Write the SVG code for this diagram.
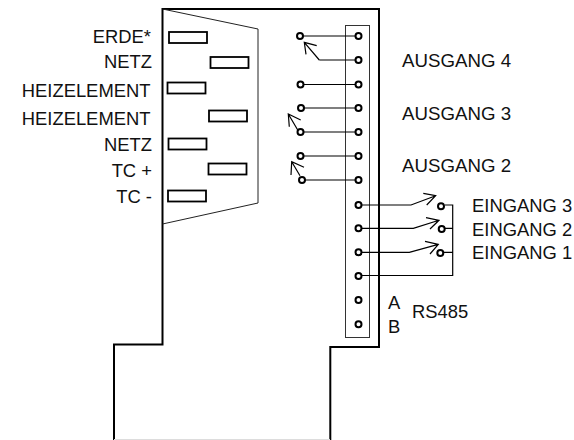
<svg xmlns="http://www.w3.org/2000/svg" width="574" height="440" viewBox="0 0 574 440">
<style>
text{font-family:"Liberation Sans",Arial,sans-serif;font-size:18.400px;fill:#111}
.e{text-anchor:end}
.a{font-size:18.700px}
.t{fill:#fff;stroke:#000;stroke-width:1.8}
.c{fill:#fff;stroke:#000;stroke-width:2}
.w{fill:none;stroke:#000;stroke-width:1.2}
.thin{fill:none;stroke:#222;stroke-width:1}
.o{fill:none;stroke:#000;stroke-width:2}
</style>
<rect width="574" height="440" fill="#fff"/>
<g id="housing"><path class="o" d="M114 440V344.500H162.500V9H379V347H330.300V440"/><path d="M114 439.500H330" fill="none" stroke="#ddd" stroke-width="1"/></g>
<g id="connector-block"><path class="thin" d="M162.500 9L258 29V203L162.500 224"/>
<rect class="t" x="169" y="32" width="38" height="11"/>
<rect class="t" x="210.500" y="57" width="38" height="11"/>
<rect class="t" x="167.500" y="82.500" width="38" height="11"/>
<rect class="t" x="209" y="110.500" width="38" height="11"/>
<rect class="t" x="168.500" y="138.500" width="38" height="11"/>
<rect class="t" x="208.500" y="163.500" width="38" height="11"/>
<rect class="t" x="168" y="190.500" width="38" height="11"/>
</g>
<g id="terminal-strip"><rect x="345.500" y="25.500" width="24" height="312" fill="#fff" stroke="#333" stroke-width="1"/></g>
<g id="connectors">
<path class="w" d="M300 36H358M319.300 60H358M300.500 84.500H358M301 108H358M300.500 132H358M300.500 156H358M302 180H358"/>
<path class="w" d="M319.300 60L304.300 42.300M306 54.300L304.300 42.300L316.700 45.700"/>
<path class="w" d="M298.300 131L288.300 114M289.300 126.700L288.300 114L300.700 120"/>
<path class="w" d="M300 175.700L291.700 161.700M291 175L291.700 161.700L304 167.300"/>
<path class="w" d="M358 205H411L435.700 195.700M423.300 193.300L435.700 195.700L426.700 205"/>
<path class="w" d="M358 228.300H413.300L439 220.300M426 217.700L439 220.300L430 229"/>
<path class="w" d="M358 252.300H409.300L438.300 244.300M425 241.300L438.300 244.300L430 254"/>
<path class="w" d="M358 275.500H452.700V205H445M452.700 228.300H445M452.700 252.300H444"/>
</g>
<g id="terminals">
<circle class="c" cx="300" cy="36" r="3"/><circle class="c" cx="358.500" cy="36" r="3"/>
<circle class="c" cx="358.500" cy="60" r="3"/>
<circle class="c" cx="300.500" cy="84.500" r="3"/><circle class="c" cx="358.500" cy="84.500" r="3"/>
<circle class="c" cx="301" cy="108" r="3"/><circle class="c" cx="358.500" cy="108" r="3"/>
<circle class="c" cx="300.500" cy="132" r="3"/><circle class="c" cx="358.500" cy="132" r="3"/>
<circle class="c" cx="300.500" cy="156" r="3"/><circle class="c" cx="358.500" cy="156" r="3"/>
<circle class="c" cx="302" cy="180" r="3"/><circle class="c" cx="358.500" cy="180" r="3"/>
<circle class="c" cx="358.500" cy="205" r="3"/><circle class="c" cx="358.500" cy="228.300" r="3"/>
<circle class="c" cx="358.500" cy="252.300" r="3"/><circle class="c" cx="358.500" cy="276" r="3"/>
<circle class="c" cx="358.500" cy="300" r="3"/><circle class="c" cx="358.500" cy="324.300" r="3"/>
<circle class="c" cx="441" cy="206.300" r="3"/><circle class="c" cx="441.700" cy="229" r="3"/><circle class="c" cx="440.300" cy="253" r="3"/>
</g>
<g id="labels">
<text class="e" x="151" y="43">ERDE*</text>
<text class="e" x="152" y="67.500">NETZ</text>
<text class="e" x="150.500" y="96.500">HEIZELEMENT</text>
<text class="e" x="150.500" y="125">HEIZELEMENT</text>
<text class="e" x="152" y="150.500">NETZ</text>
<text class="e" x="152" y="176.500">TC +</text>
<text class="e" x="152" y="202.500">TC -</text>
<text class="a" x="402" y="67">AUSGANG 4</text>
<text class="a" x="402" y="120">AUSGANG 3</text>
<text class="a" x="402" y="172">AUSGANG 2</text>
<text x="472" y="212">EINGANG 3</text>
<text x="472" y="235.500">EINGANG 2</text>
<text x="472" y="258.500">EINGANG 1</text>
<text x="388" y="309">A</text>
<text x="388" y="333">B</text>
<text x="412" y="318">RS485</text>
</g>
</svg>
